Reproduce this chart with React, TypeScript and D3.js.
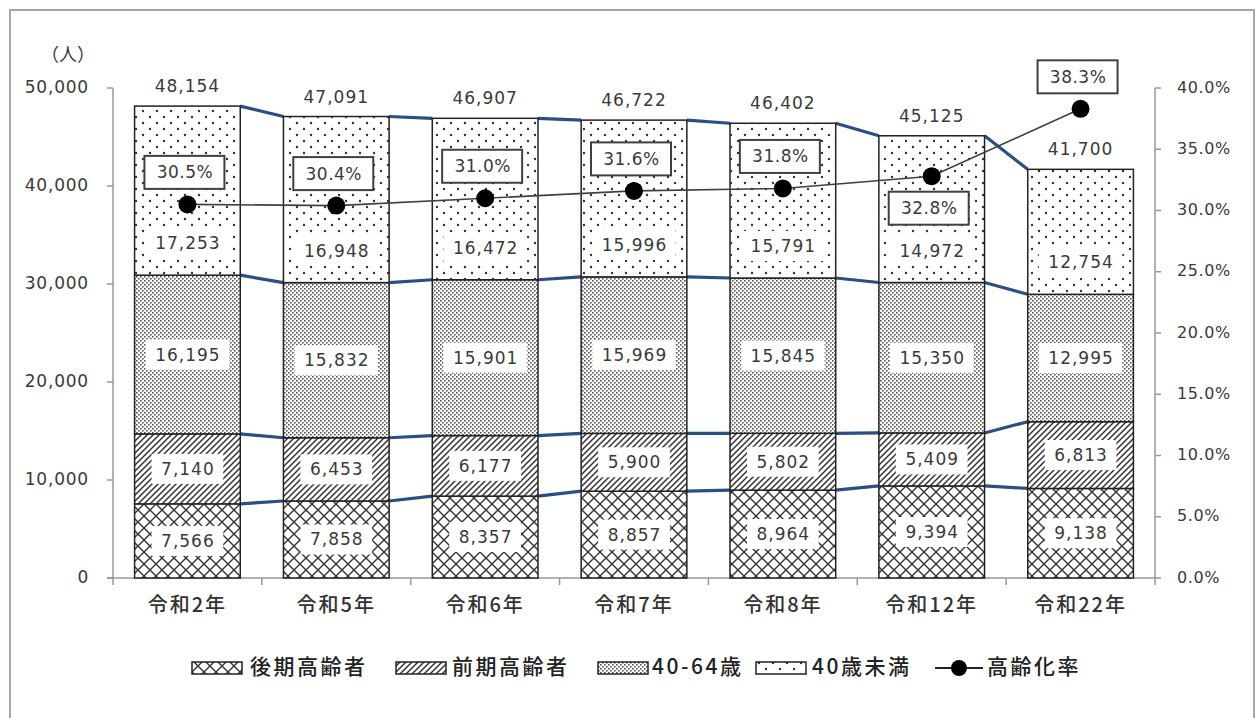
import React from "react";
import * as d3 from "d3";

const categories = ["令和2年", "令和5年", "令和6年", "令和7年", "令和8年", "令和12年", "令和22年"];
const lateElderly = [7566, 7858, 8357, 8857, 8964, 9394, 9138];
const earlyElderly = [7140, 6453, 6177, 5900, 5802, 5409, 6813];
const age40to64 = [16195, 15832, 15901, 15969, 15845, 15350, 12995];
const under40 = [17253, 16948, 16472, 15996, 15791, 14972, 12754];
const agingRate = [30.5, 30.4, 31.0, 31.6, 31.8, 32.8, 38.3];
const rateLabelBelow = [false, false, false, false, false, true, false];
const leftTicks = [0, 10000, 20000, 30000, 40000, 50000];
const rightTicks = [0, 5, 10, 15, 20, 25, 30, 35, 40];

const seriesNames = ["後期高齢者", "前期高齢者", "40-64歳", "40歳未満"];
const seriesData = [lateElderly, earlyElderly, age40to64, under40];
const patternIds = ["pCross", "pDiag", "pDense", "pSparse"];

const NUM_FONT = "'DejaVu Sans', Verdana, sans-serif";
const JP_FONT = "'Noto Sans CJK JP', sans-serif";
const TXT = "#3a3a3a";

export default function App() {
  const W = 1257, H = 718;
  const x0 = 113, x1 = 1155, yTop = 88, yBot = 578;
  const x = d3.scaleBand<string>().domain(categories).range([x0, x1]).paddingInner(0.29).paddingOuter(0.145);
  const y = d3.scaleLinear().domain([0, 50000]).range([yBot, yTop]);
  const yR = d3.scaleLinear().domain([0, 40]).range([yBot, yTop]);
  const step = (x1 - x0) / categories.length;

  const stacks = categories.map((_, i) => {
    let acc = 0;
    return seriesData.map((s) => {
      const lo = acc;
      acc += s[i];
      return [lo, acc];
    });
  });
  const totals = categories.map((_, i) => seriesData.reduce((a, s) => a + s[i], 0));
  const fmt = d3.format(",");
  const bw = x.bandwidth();

  const lineGen = d3.line<number>()
    .x((_, i) => (x(categories[i]) as number) + bw / 2)
    .y((d) => yR(d));

  const textW = (s: string, fs: number, ls: number) => {
    let w = 0;
    for (const ch of s) {
      if (ch === "," || ch === ".") w += fs * 0.32;
      else if (ch === "%") w += fs * 1.0;
      else w += fs * 0.636;
      w += ls;
    }
    return w;
  };

  const legendItems = [
    { idx: 0, sx: 192, tx: 250 },
    { idx: 1, sx: 396, tx: 452 },
    { idx: 2, sx: 598, tx: 652 },
    { idx: 3, sx: 756, tx: 812 },
  ];
  const legY = 668;

  return (
    <svg width={W} height={H} style={{ position: "absolute", left: 0, top: 0, background: "#fff" }}>
      <defs>
        <pattern id="pCross" patternUnits="userSpaceOnUse" width={12} height={12}>
          <rect width={12} height={12} fill="#fff" />
          <path d="M0,0 L12,12 M12,0 L0,12" stroke="#333" strokeWidth={1.4} />
        </pattern>
        <pattern id="pDiag" patternUnits="userSpaceOnUse" width={6} height={6}>
          <rect width={6} height={6} fill="#fff" />
          <path d="M0,6 L6,0 M-1.5,1.5 L1.5,-1.5 M4.5,7.5 L7.5,4.5" stroke="#333" strokeWidth={1.5} />
        </pattern>
        <pattern id="pDense" patternUnits="userSpaceOnUse" width={4} height={4}>
          <rect width={4} height={4} fill="#fff" />
          <rect x={0} y={0} width={1.6} height={1.6} fill="#555" />
          <rect x={2} y={2} width={1.6} height={1.6} fill="#555" />
        </pattern>
        <pattern id="pSparse" patternUnits="userSpaceOnUse" width={14} height={12}>
          <rect width={14} height={12} fill="#fff" />
          <circle cx={3} cy={3} r={1.2} fill="#333" />
          <circle cx={10} cy={9} r={1.2} fill="#333" />
        </pattern>
      </defs>

      <rect x={10} y={10} width={1244} height={720} fill="#fff" stroke="#a6a6a6" strokeWidth={2} />

      <text x={68} y={56} textAnchor="middle" fontFamily={JP_FONT} fontSize={18} fill={TXT} dominantBaseline="middle">（人）</text>

      {/* left axis */}
      <line x1={x0} x2={x0} y1={yTop} y2={yBot} stroke="#999" strokeWidth={1.5} />
      {leftTicks.map((t) => (
        <g key={"l" + t}>
          <line x1={x0 - 6} x2={x0} y1={y(t)} y2={y(t)} stroke="#999" strokeWidth={1.5} />
          <text x={89} y={y(t)} textAnchor="end" dominantBaseline="middle" fontFamily={NUM_FONT} fontSize={17} letterSpacing={0.8} fill={TXT}>{fmt(t)}</text>
        </g>
      ))}

      {/* right axis */}
      <line x1={x1} x2={x1} y1={yTop} y2={yBot} stroke="#999" strokeWidth={1.5} />
      {rightTicks.map((t) => (
        <g key={"r" + t}>
          <line x1={x1} x2={x1 + 6} y1={yR(t)} y2={yR(t)} stroke="#999" strokeWidth={1.5} />
          <text x={1177} y={yR(t)} textAnchor="start" dominantBaseline="middle" fontFamily={NUM_FONT} fontSize={16} letterSpacing={0.6} fill={TXT}>{t.toFixed(1) + "%"}</text>
        </g>
      ))}

      {/* x axis */}
      <line x1={x0 - 6} x2={x1} y1={yBot} y2={yBot} stroke="#999" strokeWidth={1.5} />
      {d3.range(categories.length + 1).map((k) => (
        <line key={"xt" + k} x1={x0 + step * k} x2={x0 + step * k} y1={yBot} y2={yBot + 7} stroke="#999" strokeWidth={1.5} />
      ))}
      {categories.map((c) => (
        <text key={"xl" + c} x={(x(c) as number) + bw / 2} y={607} textAnchor="middle" dominantBaseline="middle" fontFamily={JP_FONT} fontSize={20} fontWeight={500} letterSpacing={2} fill="#333">{c}</text>
      ))}

      {/* series lines */}
      {[0, 1, 2, 3].map((s) => (
        <g key={"sl" + s}>
          {categories.slice(0, -1).map((c, i) => (
            <line key={c} x1={(x(c) as number) + bw} y1={y(stacks[i][s][1])}
              x2={x(categories[i + 1]) as number} y2={y(stacks[i + 1][s][1])}
              stroke="#2B4F81" strokeWidth={3.2} />
          ))}
        </g>
      ))}

      {/* bars */}
      {categories.map((c, i) => (
        <g key={"b" + c}>
          {stacks[i].map(([lo, hi], s) => (
            <rect key={s} x={x(c)} y={y(hi)} width={bw} height={y(lo) - y(hi)} fill={`url(#${patternIds[s]})`} stroke="#222" strokeWidth={1.5} />
          ))}
        </g>
      ))}

      {/* segment labels */}
      {categories.map((c, i) => (
        <g key={"sg" + c}>
          {stacks[i].map(([lo, hi], s) => {
            const v = seriesData[s][i];
            const cy = s === 3 ? y(lo) - 32 : (y(lo) + y(hi)) / 2;
            const label = fmt(v);
            const tw = textW(label, 17, 1);
            const cx = (x(c) as number) + bw / 2;
            return (
              <g key={s}>
                <rect x={cx - tw / 2 - 9} y={cy - 15} width={tw + 18} height={30} fill="#fff" />
                <text x={cx + 0.5} y={cy + 1} textAnchor="middle" dominantBaseline="middle" fontFamily={NUM_FONT} fontSize={17} letterSpacing={1} fill={TXT}>{label}</text>
              </g>
            );
          })}
        </g>
      ))}

      {/* totals */}
      {categories.map((c, i) => (
        <text key={"t" + c} x={(x(c) as number) + bw / 2} y={y(totals[i]) - 19} textAnchor="middle" dominantBaseline="middle" fontFamily={NUM_FONT} fontSize={17} letterSpacing={1} fill={TXT}>{fmt(totals[i])}</text>
      ))}

      {/* aging rate line */}
      <path d={lineGen(agingRate) || ""} fill="none" stroke="#404040" strokeWidth={1.6} />
      {agingRate.map((r, i) => {
        const cx = (x(categories[i]) as number) + bw / 2;
        const cy = yR(r);
        const by = rateLabelBelow[i] ? cy + 32 : cy - 32;
        const bx = cx - 3;
        return (
          <g key={"r" + i}>
            <circle cx={cx} cy={cy} r={9} fill="#000" />
            <rect x={bx - 40} y={by - 16.5} width={80} height={33} fill="#fff" stroke="#404040" strokeWidth={2} />
            <text x={bx + 0.5} y={by + 1} textAnchor="middle" dominantBaseline="middle" fontFamily={NUM_FONT} fontSize={17} letterSpacing={0.5} fill={TXT}>{r.toFixed(1) + "%"}</text>
          </g>
        );
      })}

      {/* legend */}
      {legendItems.map((it) => (
        <g key={"lg" + it.idx}>
          <rect x={it.sx} y={legY - 6} width={50} height={12} fill={`url(#${patternIds[it.idx]})`} stroke="#222" strokeWidth={1.5} />
          <text x={it.tx} y={legY} dominantBaseline="middle" fontFamily={JP_FONT} fontSize={21} fontWeight={500} letterSpacing={2.5} fill="#222">{seriesNames[it.idx]}</text>
        </g>
      ))}
      <line x1={935} x2={983} y1={legY} y2={legY} stroke="#222" strokeWidth={2} />
      <circle cx={959} cy={legY} r={8} fill="#000" />
      <text x={987} y={legY} dominantBaseline="middle" fontFamily={JP_FONT} fontSize={21} fontWeight={500} letterSpacing={2.5} fill="#222">高齢化率</text>
    </svg>
  );
}
